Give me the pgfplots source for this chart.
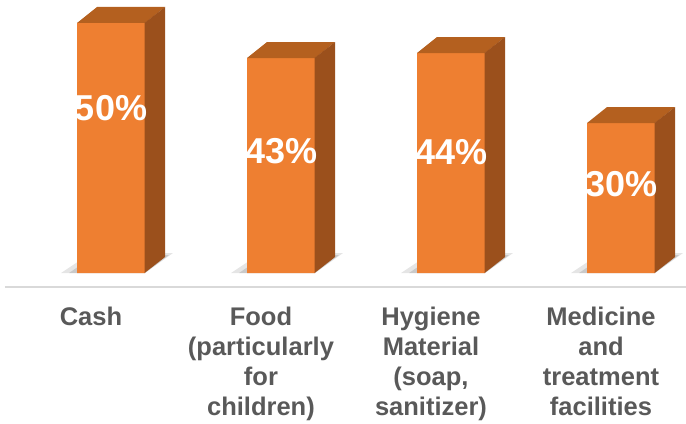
\documentclass[border=0pt]{standalone}
\usepackage{pgfplots}
\pgfplotsset{compat=1.18}
\usepackage{pgfplotstable}
\usepackage{fontspec}
\setmainfont{Liberation Sans}
\definecolor{frontc}{HTML}{EE7F31}
\definecolor{sidec}{HTML}{9B501C}
\definecolor{topc}{HTML}{B4601F}
\definecolor{labgray}{HTML}{595959}
\definecolor{basegray}{HTML}{D9D9D9}

\pgfdeclareplotmark{bar3d}{%
  \pgfmathsetlengthmacro\hh{\barval*5pt}%
  % front face
  \pgfsetfillcolor{frontc}%
  \pgfpathrectangle{\pgfpoint{-34pt}{-\hh}}{\pgfpoint{68pt}{\hh}}%
  \pgfusepath{fill}%
  % top face
  \pgfsetfillcolor{topc}%
  \pgfpathmoveto{\pgfpoint{-34pt}{0pt}}%
  \pgfpathlineto{\pgfpoint{-14pt}{16pt}}%
  \pgfpathlineto{\pgfpoint{54pt}{16pt}}%
  \pgfpathlineto{\pgfpoint{34pt}{0pt}}%
  \pgfpathclose
  \pgfusepath{fill}%
  % side face
  \pgfsetfillcolor{sidec}%
  \pgfpathmoveto{\pgfpoint{33.5pt}{0pt}}%
  \pgfpathlineto{\pgfpoint{54pt}{16pt}}%
  \pgfpathlineto{\pgfpoint{54pt}{16pt-\hh}}%
  \pgfpathlineto{\pgfpoint{33.5pt}{-\hh}}%
  \pgfpathclose
  \pgfusepath{fill}%
}
\pgfdeclareplotmark{barshadow}{%
  \pgfmathsetlengthmacro\hh{\barval*5pt}%
  \pgfsetfillcolor{black}\pgfsetfillopacity{0.10}%
  \pgfpathmoveto{\pgfpoint{-50pt}{0pt-\hh}}%
  \pgfpathlineto{\pgfpoint{34pt}{0pt-\hh}}%
  \pgfpathlineto{\pgfpoint{62pt}{20pt-\hh}}%
  \pgfpathlineto{\pgfpoint{-20pt}{20pt-\hh}}%
  \pgfpathclose
  \pgfusepath{fill}%
  \pgfsetfillopacity{0.12}%
  \pgfpathmoveto{\pgfpoint{-42pt}{0pt-\hh}}%
  \pgfpathlineto{\pgfpoint{34pt}{0pt-\hh}}%
  \pgfpathlineto{\pgfpoint{58pt}{18pt-\hh}}%
  \pgfpathlineto{\pgfpoint{-16pt}{18pt-\hh}}%
  \pgfpathclose
  \pgfusepath{fill}%
}

\pgfplotstableread{
x v ly
0 50 33.0
1 43 24.4
2 44 24.2
3 30 17.8
}\bardata

\begin{document}
\begin{tikzpicture}
\begin{axis}[
  x=170pt, y=5pt,
  xmin=-0.624, xmax=3.382, ymin=-2.8, ymax=54.6,
  axis y line=none,
  axis x line*=bottom,
  x axis line style={draw=basegray, line width=2pt},
  xtick={-0.118,0.882,1.882,2.882},
  xticklabels={Cash, {Food\\(particularly\\for\\children)}, {Hygiene\\Material\\(soap,\\sanitizer)}, {Medicine\\and\\treatment\\facilities}},
  xticklabel style={align=center, font=\bfseries\fontsize{25.5}{30}\selectfont, text=labgray, anchor=north, yshift=-16pt},
  major tick length=0pt,
  clip=false,
]
\addplot[only marks, mark=barshadow, visualization depends on={rawy \as \barval}] table[x=x, y=v] \bardata;
\addplot[ybar, bar width=68pt, bar shift=0pt, fill=frontc, draw=none] table[x=x, y=v] \bardata;
\addplot[only marks, mark=bar3d, visualization depends on={rawy \as \barval}] table[x=x, y=v] \bardata;
\addplot[draw=none, mark=none, point meta=explicit symbolic,
  nodes near coords={\pgfplotspointmeta\%},
  every node near coord/.append style={anchor=center, text=white, font=\bfseries\fontsize{36}{36}\selectfont}]
  table[x=x, y=ly, meta=v] \bardata;
\coordinate (bbsw) at (axis cs:-0.653,-30);
\coordinate (bbne) at (axis cs:3.382,54.6);
\end{axis}
\pgfresetboundingbox
\path[use as bounding box] (bbsw) rectangle (bbne);
\end{tikzpicture}
\end{document}
